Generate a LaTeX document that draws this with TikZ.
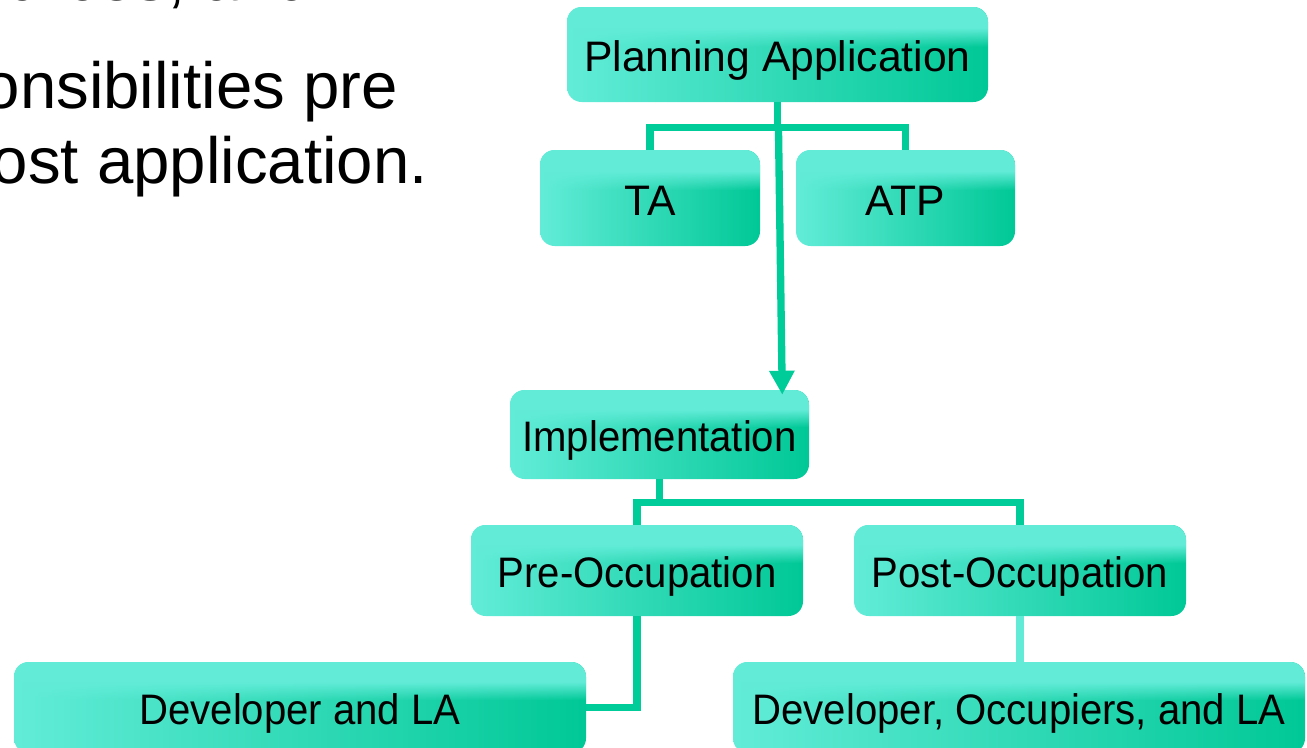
\documentclass[tikz,border=0pt]{standalone}
\usepackage{fontspec}
\setmainfont{Liberation Sans}
\newfontfamily\squeezefont[FakeStretch=0.94]{Liberation Sans}
\usetikzlibrary{arrows.meta,calc,fadings}
\definecolor{boxlight}{HTML}{62ECD8}
\definecolor{boxmid}{HTML}{00DEC3}
\definecolor{boxdark}{HTML}{00C896}
\definecolor{linkgreen}{HTML}{00CC99}
\tikzfading[name=topband, top color=transparent!0, bottom color=transparent!100]
\tikzset{
  box/.style={rounded corners=11pt, inner sep=0pt, text=black,
    font=\fontsize{32}{38}\selectfont, text height=30pt, text depth=4.5pt,
    left color=boxlight, middle color=boxmid, right color=boxdark,
    path picture={
      \fill[boxlight, sharp corners] (path picture bounding box.north west) rectangle
        ($(path picture bounding box.north east)!0.22!(path picture bounding box.south east)$);
      \fill[boxlight, sharp corners, path fading=topband]
        ($(path picture bounding box.north west)!0.219!(path picture bounding box.south west)$) rectangle
        ($(path picture bounding box.north east)!0.42!(path picture bounding box.south east)$);}},
  narrowbox/.style={box, font=\squeezefont\fontsize{32}{38}\selectfont},
  link/.style={draw=linkgreen, line width=5.5pt},
  slidetext/.style={anchor=base east, inner sep=0pt, font=\fontsize{49}{59}\selectfont}
}
\begin{document}
\begin{tikzpicture}[x=0.75pt,y=-0.75pt,>={Triangle[width=18pt,length=18pt]}]
    \clip (0,0) rectangle (1307,747);
    % slide text, cut by the frame
    \node[slidetext] (line1) at (313,0) {resources, and};
    \node[slidetext] (line2) at (398,108) {responsibilities pre};
    \node[slidetext] (line3) at (428,183) {and post application.};
    % boxes
    \node[box, minimum width=315.75pt, minimum height=71.25pt] (plan) at (777.5,54.5) {Planning Application};
    \node[box, minimum width=165pt, minimum height=72pt] (ta) at (650,198) {TA};
    \node[box, minimum width=164.25pt, minimum height=72pt] (atp) at (905.5,198) {ATP};
    \node[narrowbox, minimum width=224.25pt, minimum height=66.75pt] (impl) at (659.5,434.5) {Implementation};
    \node[narrowbox, minimum width=249pt, minimum height=68.25pt] (pre) at (637,570.5) {Pre-Occupation};
    \node[narrowbox, minimum width=249pt, minimum height=68.25pt] (post) at (1020,570.5) {Post-Occupation};
    \node[narrowbox, minimum width=429pt, minimum height=68.25pt] (devla) at (300,707.5) {Developer and LA};
    \node[narrowbox, minimum width=429pt, minimum height=68.25pt] (devocc) at (1019,707.5) {Developer, Occupiers, and LA};
    % connectors
    \draw[link] (plan.south) -- ++(0,25) -| (ta.north);
    \draw[link] (plan.south) -- ++(0,25) -| (atp.north);
    \draw[link,->] ($(plan.south)+(1,28)$) -- ($(impl.north east)+(-27,5)$);
    \draw[link] (impl.south) -- ++(0,23) -| (pre.north);
    \draw[link] (impl.south) -- ++(0,23) -| (post.north);
    \draw[link] (pre.south) |- (devla.east);
    \draw[link,draw=boxlight] (post.south) -- (post.south |- devocc.north);
\end{tikzpicture}
\end{document}
